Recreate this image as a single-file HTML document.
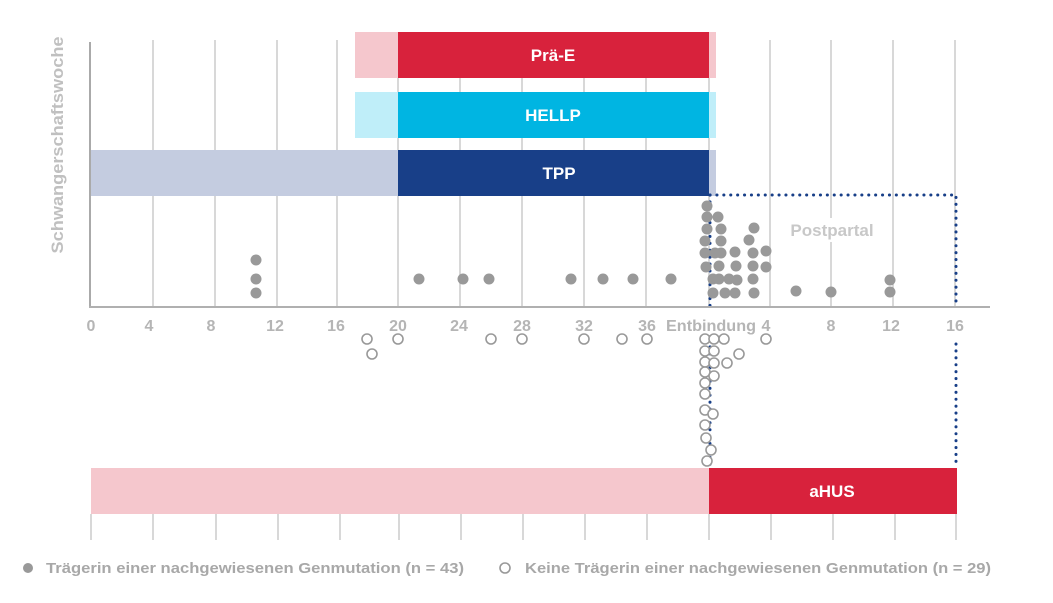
<!DOCTYPE html>
<html><head><meta charset="utf-8"><style>
html,body{margin:0;padding:0;background:#fff;}
svg{display:block;font-family:"Liberation Sans",sans-serif;font-weight:bold;}
</style></head><body>
<svg width="1053" height="603" viewBox="0 0 1053 603" xmlns="http://www.w3.org/2000/svg">
<g stroke="#d8d8d8" stroke-width="2">
<line x1="153" y1="40" x2="153" y2="307"/><line x1="215" y1="40" x2="215" y2="307"/>
<line x1="277" y1="40" x2="277" y2="307"/><line x1="337" y1="40" x2="337" y2="307"/>
<line x1="398" y1="40" x2="398" y2="307"/><line x1="460" y1="40" x2="460" y2="307"/>
<line x1="522" y1="40" x2="522" y2="307"/><line x1="584" y1="40" x2="584" y2="307"/>
<line x1="646" y1="40" x2="646" y2="307"/><line x1="709" y1="40" x2="709" y2="307"/>
<line x1="770" y1="40" x2="770" y2="307"/><line x1="831" y1="40" x2="831" y2="307"/>
<line x1="893" y1="40" x2="893" y2="307"/><line x1="955" y1="40" x2="955" y2="307"/>
<line x1="91" y1="514" x2="91" y2="540"/><line x1="153" y1="514" x2="153" y2="540"/>
<line x1="216" y1="514" x2="216" y2="540"/><line x1="278" y1="514" x2="278" y2="540"/>
<line x1="340" y1="514" x2="340" y2="540"/><line x1="399" y1="514" x2="399" y2="540"/>
<line x1="461" y1="514" x2="461" y2="540"/><line x1="523" y1="514" x2="523" y2="540"/>
<line x1="585" y1="514" x2="585" y2="540"/><line x1="647" y1="514" x2="647" y2="540"/>
<line x1="709" y1="514" x2="709" y2="540"/><line x1="771" y1="514" x2="771" y2="540"/>
<line x1="833" y1="514" x2="833" y2="540"/><line x1="895" y1="514" x2="895" y2="540"/>
<line x1="956" y1="514" x2="956" y2="540"/>
</g>
<rect x="355" y="32" width="361" height="46" fill="#f5c7cd"/>
<rect x="398" y="32" width="311" height="46" fill="#d8223c"/>
<rect x="355" y="92" width="361" height="46" fill="#bfeef9"/>
<rect x="398" y="92" width="311" height="46" fill="#00b5e2"/>
<rect x="91" y="150" width="625" height="46" fill="#c4cce0"/>
<rect x="398" y="150" width="311" height="46" fill="#183f88"/>
<rect x="91" y="468" width="618" height="46" fill="#f5c7cd"/>
<rect x="709" y="468" width="248" height="46" fill="#d8223c"/>
<g fill="#fff" font-size="17" text-anchor="middle">
<text x="553" y="61">Prä-E</text><text x="553" y="121">HELLP</text>
<text x="559" y="179">TPP</text><text x="832" y="497">aHUS</text>
</g>
<rect x="782" y="218" width="100" height="24" fill="#fff"/>
<text x="832" y="236" fill="#c8c8c8" font-size="17" text-anchor="middle">Postpartal</text>
<g stroke="#183f88" stroke-width="3" stroke-dasharray="0.1 6.8" stroke-linecap="round" fill="none">
<path d="M710 195 H956 V307"/><line x1="710" y1="195" x2="710" y2="307"/>
<line x1="956" y1="344" x2="956" y2="465"/><line x1="710" y1="340" x2="710" y2="468"/>
</g>
<line x1="90" y1="42" x2="90" y2="308" stroke="#aaa" stroke-width="2"/>
<line x1="89" y1="307" x2="990" y2="307" stroke="#b0b0b0" stroke-width="2"/>
<g fill="#b5b5b5" font-size="16" text-anchor="middle">
<text x="91" y="331">0</text><text x="149" y="331">4</text><text x="211" y="331">8</text>
<text x="275" y="331">12</text><text x="336" y="331">16</text><text x="398" y="331">20</text>
<text x="459" y="331">24</text><text x="522" y="331">28</text><text x="584" y="331">32</text>
<text x="647" y="331">36</text><text x="711" y="331" textLength="90" lengthAdjust="spacingAndGlyphs">Entbindung</text><text x="766" y="331">4</text>
<text x="831" y="331">8</text><text x="891" y="331">12</text><text x="955" y="331">16</text>
</g>
<text transform="translate(63,145) rotate(-90)" fill="#c0c0c0" font-size="17" text-anchor="middle" textLength="217" lengthAdjust="spacingAndGlyphs">Schwangerschaftswoche</text>
<g fill="#999">
<circle cx="256" cy="260" r="5.5"/><circle cx="256" cy="279" r="5.5"/><circle cx="256" cy="293" r="5.5"/>
<circle cx="419" cy="279" r="5.5"/><circle cx="463" cy="279" r="5.5"/><circle cx="489" cy="279" r="5.5"/>
<circle cx="571" cy="279" r="5.5"/><circle cx="603" cy="279" r="5.5"/><circle cx="633" cy="279" r="5.5"/><circle cx="671" cy="279" r="5.5"/>
<circle cx="707" cy="206" r="5.5"/><circle cx="707" cy="217" r="5.5"/><circle cx="718" cy="217" r="5.5"/>
<circle cx="707" cy="229" r="5.5"/><circle cx="721" cy="229" r="5.5"/><circle cx="754" cy="228" r="5.5"/>
<circle cx="705" cy="241" r="5.5"/><circle cx="721" cy="241" r="5.5"/><circle cx="749" cy="240" r="5.5"/>
<circle cx="705" cy="253" r="5.5"/><circle cx="715" cy="253" r="5.5"/><circle cx="721" cy="253" r="5.5"/>
<circle cx="735" cy="252" r="5.5"/><circle cx="753" cy="253" r="5.5"/><circle cx="766" cy="251" r="5.5"/>
<circle cx="706" cy="267" r="5.5"/><circle cx="719" cy="266" r="5.5"/><circle cx="736" cy="266" r="5.5"/>
<circle cx="753" cy="266" r="5.5"/><circle cx="766" cy="267" r="5.5"/>
<circle cx="713" cy="279" r="5.5"/><circle cx="719" cy="279" r="5.5"/><circle cx="729" cy="279" r="5.5"/>
<circle cx="737" cy="280" r="5.5"/><circle cx="753" cy="279" r="5.5"/>
<circle cx="713" cy="293" r="5.5"/><circle cx="725" cy="293" r="5.5"/><circle cx="735" cy="293" r="5.5"/>
<circle cx="754" cy="293" r="5.5"/><circle cx="796" cy="291" r="5.5"/><circle cx="831" cy="292" r="5.5"/>
<circle cx="890" cy="280" r="5.5"/><circle cx="890" cy="292" r="5.5"/>
</g>
<g fill="#fff" stroke="#999" stroke-width="1.6">
<circle cx="367" cy="339" r="5"/><circle cx="372" cy="354" r="5"/><circle cx="398" cy="339" r="5"/>
<circle cx="491" cy="339" r="5"/><circle cx="522" cy="339" r="5"/><circle cx="584" cy="339" r="5"/>
<circle cx="622" cy="339" r="5"/><circle cx="647" cy="339" r="5"/>
<circle cx="705" cy="339" r="5"/><circle cx="714" cy="339" r="5"/><circle cx="724" cy="339" r="5"/><circle cx="766" cy="339" r="5"/>
<circle cx="705" cy="351" r="5"/><circle cx="714" cy="351" r="5"/><circle cx="739" cy="354" r="5"/>
<circle cx="705" cy="362" r="5"/><circle cx="714" cy="363" r="5"/><circle cx="727" cy="363" r="5"/>
<circle cx="705" cy="372" r="5"/><circle cx="714" cy="376" r="5"/>
<circle cx="705" cy="383" r="5"/><circle cx="705" cy="394" r="5"/>
<circle cx="705" cy="410" r="5"/><circle cx="713" cy="414" r="5"/>
<circle cx="705" cy="425" r="5"/><circle cx="706" cy="438" r="5"/>
<circle cx="711" cy="450" r="5"/><circle cx="707" cy="461" r="5"/>
</g>
<circle cx="28" cy="568" r="5" fill="#999"/>
<circle cx="505" cy="568" r="5" fill="#fff" stroke="#999" stroke-width="1.6"/>
<g fill="#a8a8a8" font-size="15">
<text x="46" y="573" textLength="418" lengthAdjust="spacingAndGlyphs">Trägerin einer nachgewiesenen Genmutation (n = 43)</text>
<text x="525" y="573" textLength="466" lengthAdjust="spacingAndGlyphs">Keine Trägerin einer nachgewiesenen Genmutation (n = 29)</text>
</g>
</svg>
</body></html>
